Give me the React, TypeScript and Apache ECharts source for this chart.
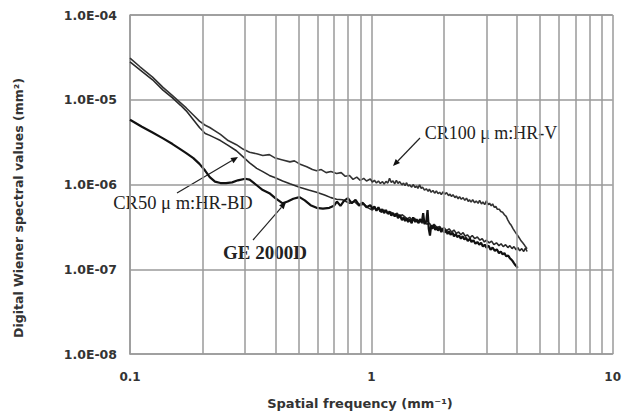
import React, { useEffect, useRef } from "react";
import * as echarts from "echarts";

// Spatial frequency (mm^-1), DWS value (mm^2)
const cr100Data: [number, number][] = [
  [0.1, 3.1e-5], [0.11, 2.45e-5], [0.124, 1.85e-5], [0.137, 1.4e-5], [0.15, 1.12e-5],
  [0.162, 9.2e-6], [0.171, 8.0e-6], [0.183, 6.6e-6], [0.194, 5.6e-6], [0.205, 5.0e-6],
  [0.214, 4.7e-6], [0.225, 4.3e-6], [0.237, 3.9e-6], [0.255, 3.3e-6], [0.276, 2.95e-6],
  [0.295, 2.6e-6], [0.313, 2.4e-6], [0.335, 2.3e-6], [0.355, 2.2e-6], [0.378, 2.25e-6],
  [0.4, 2.05e-6], [0.429, 1.95e-6], [0.46, 1.85e-6], [0.48, 1.9e-6], [0.504, 1.75e-6],
  [0.54, 1.62e-6], [0.57, 1.5e-6], [0.593, 1.45e-6], [0.62, 1.5e-6], [0.65, 1.38e-6],
  [0.68, 1.42e-6], [0.718, 1.35e-6], [0.75, 1.38e-6], [0.78, 1.25e-6], [0.812, 1.28e-6],
  [0.84, 1.15e-6], [0.87, 1.22e-6], [0.9, 1.12e-6], [0.93, 1.18e-6], [0.955, 1.1e-6],
  [0.99, 1.16e-6], [1.01, 1.07e-6], [1.03, 1.12e-6], [1.05, 1.04e-6], [1.07, 1.1e-6],
  [1.09, 1.03e-6], [1.113, 1.08e-6], [1.13, 1.01e-6], [1.15, 1.09e-6], [1.17, 1.04e-6],
  [1.19, 1.18e-6], [1.21, 1.06e-6], [1.23, 1.1e-6], [1.25, 1.02e-6], [1.27, 1.12e-6],
  [1.29, 1.03e-6], [1.31, 1.08e-6], [1.34, 9.9e-7], [1.36, 1.04e-6], [1.38, 9.7e-7],
  [1.4, 1.05e-6], [1.42, 9.6e-7], [1.44, 9.9e-7], [1.47, 9.3e-7], [1.49, 1.0e-6],
  [1.52, 9.2e-7], [1.54, 9.6e-7], [1.56, 9.0e-7], [1.585, 9.9e-7], [1.61, 9.0e-7],
  [1.63, 9.3e-7], [1.66, 8.6e-7], [1.69, 8.9e-7], [1.72, 8.3e-7], [1.74, 8.8e-7],
  [1.77, 8.1e-7], [1.8, 8.5e-7], [1.83, 7.9e-7], [1.86, 8.4e-7], [1.89, 7.8e-7],
  [1.92, 8.1e-7], [1.95, 7.6e-7], [1.98, 8.2e-7], [2.02, 7.7e-7], [2.05, 8.0e-7],
  [2.09, 7.4e-7], [2.12, 7.7e-7], [2.15, 7.2e-7], [2.18, 7.6e-7], [2.22, 7.0e-7],
  [2.25, 7.3e-7], [2.29, 6.8e-7], [2.32, 7.2e-7], [2.36, 6.7e-7], [2.4, 7.0e-7],
  [2.44, 6.5e-7], [2.48, 6.9e-7], [2.52, 6.3e-7], [2.55, 6.6e-7], [2.59, 6.2e-7],
  [2.63, 6.6e-7], [2.68, 6.1e-7], [2.72, 6.4e-7], [2.77, 6.0e-7], [2.81, 6.5e-7],
  [2.86, 5.9e-7], [2.9, 6.2e-7], [2.95, 5.8e-7], [3.0, 6.4e-7], [3.05, 5.8e-7],
  [3.09, 6.0e-7], [3.14, 5.6e-7], [3.18, 5.9e-7], [3.23, 5.4e-7], [3.28, 5.5e-7],
  [3.33, 5.1e-7], [3.39, 5.1e-7], [3.44, 4.8e-7], [3.5, 4.7e-7], [3.56, 4.4e-7],
  [3.62, 4.2e-7], [3.68, 3.8e-7], [3.74, 3.5e-7], [3.8, 3.3e-7], [3.87, 3.0e-7],
  [3.93, 2.8e-7], [4.0, 2.6e-7], [4.06, 2.45e-7], [4.12, 2.3e-7], [4.18, 2.15e-7],
  [4.24, 2.05e-7], [4.3, 1.95e-7], [4.35, 1.85e-7], [4.42, 1.75e-7],
];

const cr50Data: [number, number][] = [
  [0.1, 2.8e-5], [0.11, 2.25e-5], [0.124, 1.72e-5], [0.137, 1.3e-5], [0.15, 1.05e-5],
  [0.162, 8.6e-6], [0.171, 7.4e-6], [0.183, 5.8e-6], [0.194, 4.7e-6], [0.205, 4.0e-6],
  [0.214, 3.8e-6], [0.225, 3.55e-6], [0.237, 3.3e-6], [0.255, 2.9e-6], [0.276, 2.5e-6],
  [0.295, 2.1e-6], [0.313, 1.8e-6], [0.335, 1.55e-6], [0.355, 1.42e-6], [0.378, 1.28e-6],
  [0.4, 1.2e-6], [0.429, 1.1e-6], [0.46, 1.02e-6], [0.504, 9.3e-7], [0.55, 8.6e-7],
  [0.593, 8.1e-7], [0.64, 7.5e-7], [0.68, 7.0e-7], [0.718, 6.7e-7], [0.76, 6.6e-7],
  [0.812, 6.0e-7], [0.85, 6.3e-7], [0.89, 5.6e-7], [0.93, 5.9e-7], [0.97, 5.3e-7],
  [1.01, 5.0e-7], [1.03, 5.3e-7], [1.05, 5.0e-7], [1.08, 5.2e-7], [1.1, 4.7e-7],
  [1.13, 5.0e-7], [1.15, 4.8e-7], [1.18, 4.5e-7], [1.21, 4.7e-7], [1.25, 4.4e-7],
  [1.28, 4.6e-7], [1.31, 4.1e-7], [1.34, 4.4e-7], [1.37, 4.2e-7], [1.41, 3.9e-7],
  [1.44, 4.1e-7], [1.48, 3.8e-7], [1.51, 4.0e-7], [1.55, 3.6e-7], [1.585, 3.8e-7],
  [1.62, 3.5e-7], [1.66, 3.7e-7], [1.7, 3.4e-7], [1.74, 3.5e-7], [1.78, 3.2e-7],
  [1.82, 3.4e-7], [1.87, 3.1e-7], [1.92, 3.2e-7], [1.96, 2.95e-7], [2.0, 3.1e-7],
  [2.05, 2.85e-7], [2.1, 3.0e-7], [2.15, 2.75e-7], [2.2, 2.9e-7], [2.25, 2.65e-7],
  [2.3, 2.75e-7], [2.35, 2.55e-7], [2.4, 2.7e-7], [2.45, 2.45e-7], [2.5, 2.55e-7],
  [2.56, 2.35e-7], [2.62, 2.5e-7], [2.68, 2.3e-7], [2.75, 2.4e-7], [2.82, 2.2e-7],
  [2.88, 2.3e-7], [2.94, 2.1e-7], [3.0, 2.2e-7], [3.08, 2.05e-7], [3.15, 2.15e-7],
  [3.22, 1.95e-7], [3.3, 2.05e-7], [3.38, 1.9e-7], [3.45, 2.0e-7], [3.52, 1.85e-7],
  [3.6, 1.95e-7], [3.68, 1.8e-7], [3.75, 1.9e-7], [3.83, 1.75e-7], [3.9, 1.85e-7],
  [3.98, 1.7e-7], [4.05, 1.8e-7], [4.12, 1.65e-7], [4.2, 1.75e-7], [4.28, 1.62e-7],
  [4.35, 1.78e-7], [4.42, 1.62e-7],
];

const geData: [number, number][] = [
  [0.1, 5.8e-6], [0.112, 4.8e-6], [0.124, 4.1e-6], [0.137, 3.5e-6], [0.15, 3.0e-6],
  [0.162, 2.6e-6], [0.171, 2.35e-6], [0.183, 2.05e-6], [0.194, 1.75e-6], [0.205, 1.45e-6],
  [0.214, 1.22e-6], [0.225, 1.08e-6], [0.237, 1.04e-6], [0.25, 1.04e-6], [0.265, 1.06e-6],
  [0.28, 1.12e-6], [0.3, 1.17e-6], [0.313, 1.14e-6], [0.335, 9.8e-7], [0.355, 8.6e-7],
  [0.378, 7.9e-7], [0.4, 6.9e-7], [0.429, 6.0e-7], [0.45, 6.3e-7], [0.475, 6.8e-7],
  [0.504, 7.1e-7], [0.53, 6.5e-7], [0.56, 5.7e-7], [0.593, 5.3e-7], [0.63, 5.2e-7],
  [0.67, 5.3e-7], [0.7, 5.6e-7], [0.72, 6.3e-7], [0.745, 5.6e-7], [0.77, 6.4e-7],
  [0.8, 6.9e-7], [0.83, 6.0e-7], [0.86, 6.6e-7], [0.89, 5.7e-7], [0.92, 6.1e-7],
  [0.955, 5.4e-7], [0.99, 5.7e-7], [1.01, 5.2e-7], [1.03, 5.5e-7], [1.05, 4.9e-7],
  [1.07, 5.4e-7], [1.09, 4.8e-7], [1.11, 5.1e-7], [1.13, 4.6e-7], [1.15, 5.0e-7],
  [1.17, 4.5e-7], [1.19, 4.8e-7], [1.21, 4.3e-7], [1.23, 4.6e-7], [1.25, 4.2e-7],
  [1.27, 4.5e-7], [1.29, 4.0e-7], [1.31, 4.4e-7], [1.34, 3.8e-7], [1.36, 4.1e-7],
  [1.38, 3.7e-7], [1.4, 4.0e-7], [1.42, 3.6e-7], [1.44, 3.9e-7], [1.47, 3.5e-7],
  [1.49, 4.1e-7], [1.52, 3.6e-7], [1.54, 3.9e-7], [1.57, 3.5e-7], [1.59, 3.9e-7],
  [1.62, 3.6e-7], [1.64, 4.6e-7], [1.66, 3.4e-7], [1.69, 3.7e-7], [1.71, 5.0e-7],
  [1.73, 3.0e-7], [1.75, 2.5e-7], [1.77, 3.3e-7], [1.79, 3.0e-7], [1.82, 3.3e-7],
  [1.84, 2.9e-7], [1.87, 3.15e-7], [1.89, 2.85e-7], [1.92, 3.1e-7], [1.95, 2.75e-7],
  [1.98, 3.0e-7], [2.01, 2.7e-7], [2.04, 2.9e-7], [2.07, 2.6e-7], [2.1, 2.8e-7],
  [2.13, 2.55e-7], [2.17, 2.7e-7], [2.2, 2.45e-7], [2.24, 2.6e-7], [2.27, 2.4e-7],
  [2.31, 2.5e-7], [2.35, 2.3e-7], [2.39, 2.45e-7], [2.43, 2.25e-7], [2.47, 2.35e-7],
  [2.51, 2.15e-7], [2.56, 2.3e-7], [2.6, 2.1e-7], [2.65, 2.2e-7], [2.7, 2.0e-7],
  [2.75, 2.1e-7], [2.8, 1.95e-7], [2.85, 2.05e-7], [2.9, 1.85e-7], [2.95, 1.95e-7],
  [3.0, 1.8e-7], [3.06, 1.9e-7], [3.12, 1.7e-7], [3.18, 1.8e-7], [3.25, 1.65e-7],
  [3.31, 1.72e-7], [3.38, 1.55e-7], [3.44, 1.62e-7], [3.5, 1.5e-7], [3.56, 1.55e-7],
  [3.62, 1.42e-7], [3.69, 1.45e-7], [3.75, 1.35e-7], [3.8, 1.3e-7], [3.85, 1.25e-7],
  [3.9, 1.18e-7], [3.95, 1.12e-7], [4.0, 1.08e-7], [4.04, 1.04e-7],
];

const xTickLabels = ["0.1", "1", "10"];
const minorGridX = [0.2, 0.3, 0.4, 0.5, 0.6, 0.7, 0.8, 0.9, 2, 3, 4, 5, 6, 7, 8, 9];

const GRID_COLOR = "#9a9a9a";

function arrow(x1: number, y1: number, x2: number, y2: number) {
  const a = Math.atan2(y2 - y1, x2 - x1);
  const h = 7;
  const w = 3;
  const bx = x2 - h * Math.cos(a);
  const by = y2 - h * Math.sin(a);
  return [
    {
      type: "line",
      shape: { x1, y1, x2: bx, y2: by },
      style: { stroke: "#222", lineWidth: 1.2 },
      silent: true,
    },
    {
      type: "polygon",
      shape: {
        points: [
          [x2, y2],
          [bx + w * Math.sin(a), by - w * Math.cos(a)],
          [bx - w * Math.sin(a), by + w * Math.cos(a)],
        ],
      },
      style: { fill: "#111" },
      silent: true,
    },
  ];
}

export default function App() {
  const ref = useRef<HTMLDivElement>(null);
  useEffect(() => {
    if (!ref.current) return;
    const chart = echarts.init(ref.current, null, { renderer: "svg" });
    const serifText = (text: string, x: number, y: number, size: number, bold = false) => ({
      type: "text",
      x,
      y,
      silent: true,
      style: {
        text,
        fill: "#222",
        font: `${bold ? "bold " : ""}${size}px 'Liberation Serif', serif`,
        align: "center",
        verticalAlign: "middle",
      },
    });
    chart.setOption({
      animation: false,
      backgroundColor: "#ffffff",
      grid: { left: 130, right: 11, top: 15, bottom: 60, containLabel: false },
      xAxis: {
        type: "log",
        logBase: 10,
        min: 0.1,
        max: 10,
        interval: 1,
        axisLine: { show: true, lineStyle: { color: GRID_COLOR, width: 1.5 } },
        axisTick: { show: false },
        splitLine: { show: true, lineStyle: { color: GRID_COLOR, width: 1.5 } },
        axisLabel: {
          margin: 17,
          color: "#333",
          fontSize: 12,
          fontWeight: "bold",
          fontFamily: "'DejaVu Sans', sans-serif",
          formatter: (v: number) => xTickLabels[Math.round(Math.log10(v)) + 1] ?? String(v),
        },
      },
      yAxis: {
        type: "log",
        logBase: 10,
        min: 1e-8,
        max: 1e-4,
        interval: 1,
        axisLine: { show: true, lineStyle: { color: GRID_COLOR, width: 1.5 } },
        axisTick: { show: false },
        splitLine: { show: true, lineStyle: { color: GRID_COLOR, width: 1.5 } },
        axisLabel: {
          margin: 13,
          color: "#333",
          fontSize: 12.5,
          fontWeight: "bold",
          fontFamily: "'DejaVu Sans', sans-serif",
          formatter: (v: number) => {
            const e = Math.round(Math.log10(v));
            return `1.0E${e < 0 ? "-" : "+"}${String(Math.abs(e)).padStart(2, "0")}`;
          },
        },
      },
      series: [
        {
          type: "line",
          data: [],
          z: 1,
          silent: true,
          markLine: {
            silent: true,
            symbol: "none",
            label: { show: false },
            lineStyle: { color: GRID_COLOR, width: 1.5, type: "solid" },
            data: minorGridX.map((x) => ({ xAxis: x })),
          },
        },
        {
          name: "CR100 μ m:HR-V",
          type: "line",
          data: cr100Data,
          showSymbol: false,
          z: 3,
          lineStyle: { color: "#333333", width: 1.6 },
        },
        {
          name: "CR50 μ m:HR-BD",
          type: "line",
          data: cr50Data,
          showSymbol: false,
          z: 3,
          lineStyle: { color: "#2a2a2a", width: 1.6 },
        },
        {
          name: "GE 2000D",
          type: "line",
          data: geData,
          showSymbol: false,
          z: 4,
          lineStyle: { color: "#111111", width: 2.2 },
        },
      ],
      graphic: [
        {
          type: "text",
          x: 18,
          y: 208,
          rotation: Math.PI / 2,
          silent: true,
          style: {
            text: "Digital Wiener spectral values (mm²)",
            fill: "#333",
            font: "bold 12.5px 'DejaVu Sans', sans-serif",
            align: "center",
            verticalAlign: "middle",
          },
        },
        {
          type: "text",
          x: 360,
          y: 403,
          silent: true,
          style: {
            text: "Spatial frequency (mm⁻¹)",
            fill: "#333",
            font: "bold 13px 'DejaVu Sans', sans-serif",
            align: "center",
            verticalAlign: "middle",
          },
        },
        serifText("CR100 μ m:HR-V", 491, 133, 18),
        serifText("CR50 μ m:HR-BD", 183, 203, 18.5),
        serifText("GE 2000D", 265, 252, 19, true),
        ...arrow(420, 138, 393, 166),
        ...arrow(177, 193, 238, 157),
        ...arrow(253, 240, 286, 202),
      ],
    });
    return () => chart.dispose();
  }, []);
  return (
    <div
      ref={ref}
      style={{ position: "fixed", left: 0, top: 0, width: 624, height: 414, background: "#fff" }}
    />
  );
}
